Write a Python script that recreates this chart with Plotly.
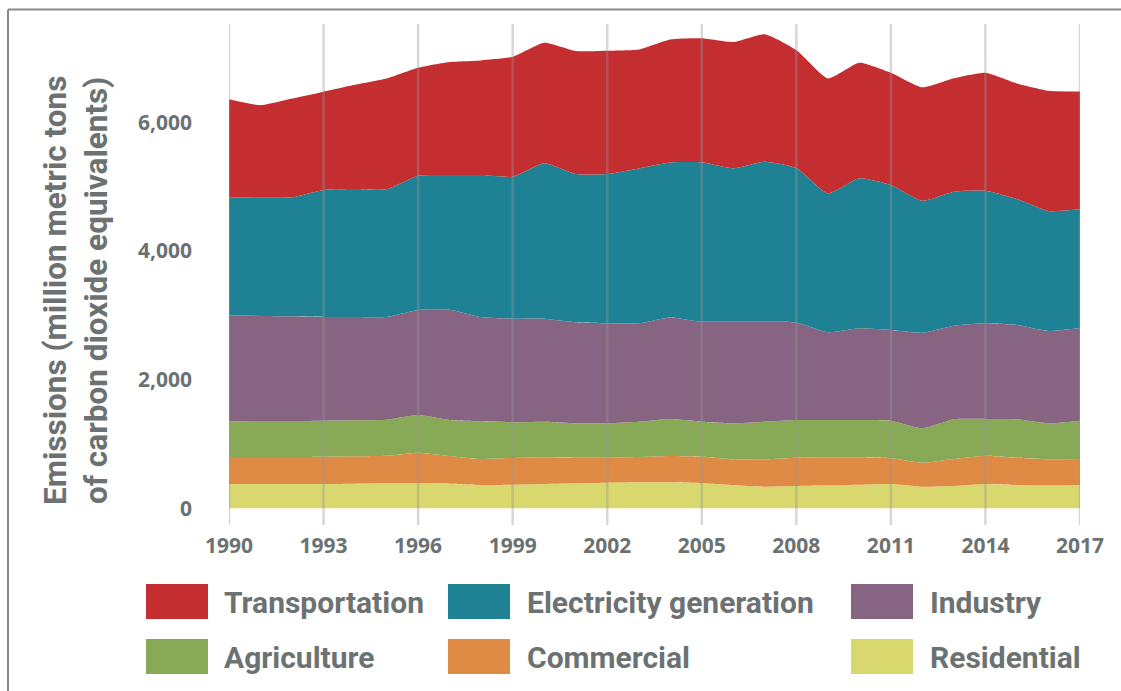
import plotly.graph_objects as go

years = list(range(1990, 2018))

residential = [378, 378, 378, 378, 383, 389, 389, 383, 362, 367, 378, 389, 398, 404,
               404, 389, 358, 336, 347, 358, 367, 378, 336, 347, 378, 362, 358, 362]
commercial = [420, 420, 420, 425, 426, 429, 476, 431, 404, 415, 415, 398, 389, 393,
              409, 414, 404, 426, 440, 435, 426, 400, 373, 420, 440, 425, 404, 404]
agriculture = [555, 560, 560, 560, 560, 560, 586, 560, 586, 555, 554, 535, 535, 549,
               575, 544, 560, 585, 586, 580, 580, 585, 535, 617, 571, 597, 560, 596]
industry = [1648, 1633, 1628, 1613, 1606, 1597, 1633, 1715, 1622, 1611, 1602, 1571, 1555, 1530,
            1581, 1555, 1580, 1555, 1516, 1364, 1426, 1410, 1487, 1456, 1488, 1466, 1435, 1441]
electricity = [1835, 1840, 1850, 1975, 1990, 1986, 2088, 2095, 2208, 2208, 2416, 2306, 2322, 2410,
               2410, 2479, 2385, 2488, 2402, 2161, 2333, 2255, 2051, 2084, 2062, 1959, 1866, 1847]
transportation = [1524, 1437, 1536, 1529, 1622, 1723, 1679, 1757, 1784, 1866, 1875, 1913, 1917, 1850,
                  1913, 1928, 1964, 1983, 1835, 1788, 1798, 1746, 1765, 1763, 1835, 1799, 1871, 1832]

# bottom-to-top stacking order
series = [
    ("Residential", residential, "#d9d86e"),
    ("Commercial", commercial, "#e08b45"),
    ("Agriculture", agriculture, "#88aa56"),
    ("Industry", industry, "#866482"),
    ("Electricity generation", electricity, "#1e8294"),
    ("Transportation", transportation, "#c42e30"),
]

legend_order = ["Transportation", "Electricity generation", "Industry",
                "Agriculture", "Commercial", "Residential"]

x_ticks = list(range(1990, 2018, 3))
y_ticks = [0, 2000, 4000, 6000]

TEXT = "#6c7272"
BIG_FONT = "Liberation Sans Narrow, Roboto, sans-serif"

fig = go.Figure()
for name, vals, col in series:
    fig.add_trace(go.Scatter(
        x=years, y=vals, name=name, stackgroup="one", mode="lines",
        line=dict(width=0, shape="spline", smoothing=0.5, color=col),
        fillcolor=col, showlegend=False, hoverinfo="x+y+name",
    ))

# plot-area geometry in pixels (for placing legend/frame in paper coords)
W, H = 1121, 691
L, R, T, B = 229, 1080, 24, 525
def px(x):
    return (x - L) / (R - L)
def py(y):
    return (B - y) / (B - T)

shapes = []
# vertical gridlines above the areas
for yr in x_ticks:
    shapes.append(dict(type="line", xref="x", yref="paper", x0=yr, x1=yr, y0=0, y1=1,
                       layer="above", line=dict(color="rgba(150,150,150,0.38)", width=2.5)))
# outer frame (top and left)
shapes.append(dict(type="line", xref="paper", yref="paper", x0=px(8), x1=px(1125),
                   y0=py(9.5), y1=py(9.5), line=dict(color="#858989", width=2)))
shapes.append(dict(type="line", xref="paper", yref="paper", x0=px(8), x1=px(8),
                   y0=py(9.5), y1=py(700), line=dict(color="#858989", width=2)))

annotations = []
col_box_x = [146, 448, 851]
col_text_x = [222, 525, 928]
row_box_y = [(584, 619), (639, 674)]
color_of = {n: c for n, _, c in series}
for i, name in enumerate(legend_order):
    r, c = divmod(i, 3)
    y0, y1 = row_box_y[r]
    shapes.append(dict(type="rect", xref="paper", yref="paper",
                       x0=px(col_box_x[c]), x1=px(col_box_x[c] + 62),
                       y0=py(y1), y1=py(y0), fillcolor=color_of[name],
                       line=dict(width=0)))
    annotations.append(dict(text=name, xref="paper", yref="paper",
                            x=px(col_text_x[c]), y=py((y0 + y1) / 2 + 1),
                            xanchor="left", yanchor="middle", showarrow=False,
                            font=dict(family=BIG_FONT, size=30, color=TEXT, weight="bold")))

annotations.append(dict(text="Emissions (million metric tons<br>of carbon dioxide equivalents)",
                        xref="paper", yref="paper", x=px(76), y=py(291),
                        xanchor="center", yanchor="middle", textangle=-90, showarrow=False,
                        font=dict(family=BIG_FONT, size=31.5, color=TEXT, weight="bold")))

k = 0.0643  # px per unit
base = 508.3
y_lo = -(B - base) / k
y_hi = (base - T) / k

fig.update_layout(
    width=W, height=H, autosize=False,
    margin=dict(l=L, r=W - R, t=T, b=H - B),
    paper_bgcolor="white", plot_bgcolor="white",
    shapes=shapes, annotations=annotations,
    xaxis=dict(range=[1990, 2017], tickvals=x_ticks, showgrid=False, zeroline=False,
               showline=False, ticks="", ticklabelstandoff=6,
               tickfont=dict(family="Open Sans, sans-serif", size=21, color=TEXT, weight="bold")),
    yaxis=dict(range=[y_lo, y_hi], tickvals=y_ticks, tickformat=",", showgrid=False,
               zeroline=False, showline=False, ticks="", ticklabelstandoff=36,
               tickfont=dict(family="Open Sans, sans-serif", size=21, color=TEXT, weight="bold")),
)

fig.write_html("out.html")
